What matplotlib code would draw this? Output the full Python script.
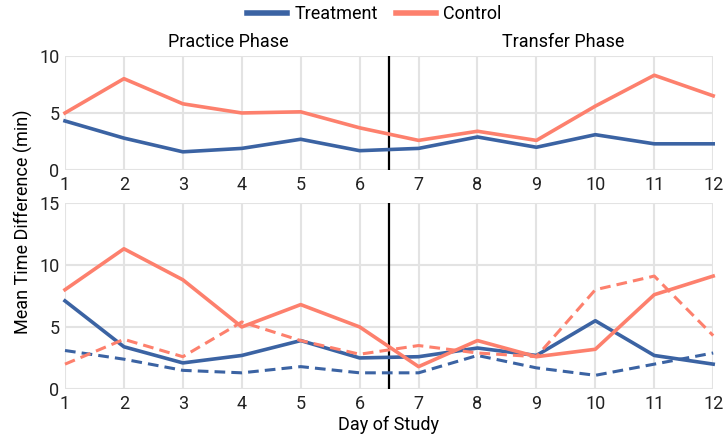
import matplotlib
matplotlib.use("Agg")
import matplotlib.pyplot as plt
from matplotlib.lines import Line2D

plt.rcParams["font.family"] = ["Roboto", "DejaVu Sans"]

days = list(range(1, 13))

# top panel
top_treatment = [4.3, 2.8, 1.6, 1.9, 2.7, 1.7, 1.9, 2.9, 2.0, 3.1, 2.3, 2.3]
top_control = [5.0, 8.0, 5.8, 5.0, 5.1, 3.7, 2.6, 3.4, 2.6, 5.6, 8.3, 6.5]

# bottom panel (solid and dashed)
bot_treatment = [7.1, 3.4, 2.1, 2.7, 3.9, 2.5, 2.6, 3.3, 2.7, 5.5, 2.7, 2.0]
bot_control = [8.0, 11.3, 8.8, 5.0, 6.8, 5.0, 1.8, 3.9, 2.6, 3.2, 7.6, 9.1]
bot_treatment_dash = [3.1, 2.4, 1.5, 1.3, 1.8, 1.3, 1.3, 2.7, 1.7, 1.1, 2.0, 2.9]
bot_control_dash = [2.0, 4.0, 2.6, 5.4, 3.9, 2.8, 3.5, 2.9, 2.6, 8.0, 9.1, 4.3]

BLUE = "#3b63a3"
SALMON = "#fd806d"
GRID = "#e3e3e3"
FS = 13

fig = plt.figure(figsize=(7.27, 4.43), dpi=100)
ax_top = fig.add_axes([0.0894, 0.616, 0.8916, 0.258])
ax_bot = fig.add_axes([0.0894, 0.122, 0.8916, 0.420])


def style(ax, ymax, yticks):
    ax.set_xlim(1, 12)
    ax.set_ylim(0, ymax)
    ax.set_xticks(days)
    ax.set_yticks(yticks)
    ax.grid(True, color=GRID, linewidth=1.5)
    ax.set_axisbelow(True)
    for s in ax.spines.values():
        s.set_visible(False)
    ax.tick_params(length=0, labelsize=FS, colors="#222222", pad=4)
    ax.axvline(6.5, color="black", linewidth=1.6)


style(ax_top, 10, [0, 5, 10])
style(ax_bot, 15, [0, 5, 10, 15])

lw = 2.6
ax_top.plot(days, top_treatment, color=BLUE, lw=lw, clip_on=False)
ax_top.plot(days, top_control, color=SALMON, lw=lw, clip_on=False)

ax_bot.plot(days, bot_treatment, color=BLUE, lw=lw, clip_on=False)
ax_bot.plot(days, bot_control, color=SALMON, lw=lw, clip_on=False)
ax_bot.plot(days, bot_treatment_dash, color=BLUE, lw=2.2, ls=(0, (3.5, 2)), clip_on=False)
ax_bot.plot(days, bot_control_dash, color=SALMON, lw=2.2, ls=(0, (3.5, 2)), clip_on=False)

trans = ax_top.get_xaxis_transform()
ax_top.text(3.77, 1.045, "Practice Phase", transform=trans, ha="center", va="bottom", fontsize=FS)
ax_top.text(9.45, 1.045, "Transfer Phase", transform=trans, ha="center", va="bottom", fontsize=FS)

fig.text(0.032, 0.50, "Mean Time Difference (min)", rotation=90, ha="center", va="center", fontsize=FS)
fig.text(0.535, 0.04, "Day of Study", ha="center", va="center", fontsize=FS)

handles = [Line2D([], [], color=BLUE, lw=4), Line2D([], [], color=SALMON, lw=4)]
fig.legend(handles, ["Treatment", "Control"], loc="center", bbox_to_anchor=(0.515, 0.968),
           ncol=2, frameon=False, fontsize=FS, handlelength=2.2, handletextpad=0.4, columnspacing=1.0)

fig.savefig("out.png", dpi=100)
